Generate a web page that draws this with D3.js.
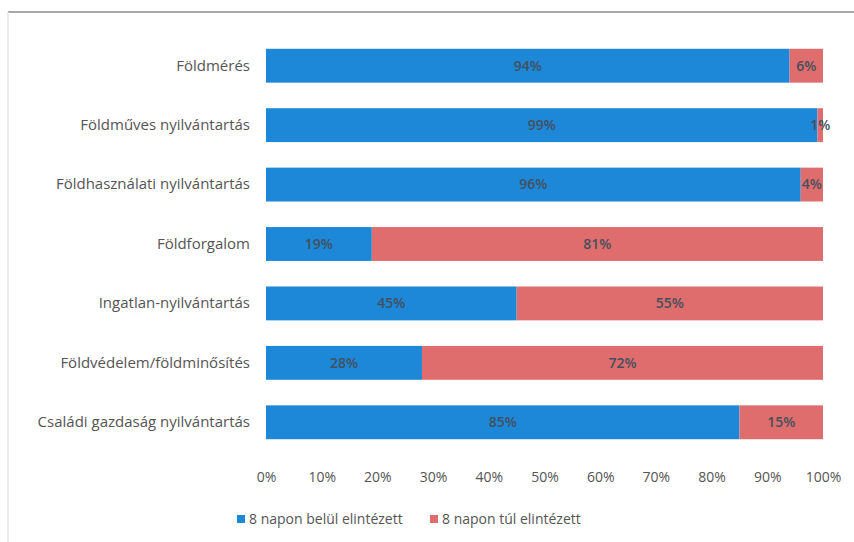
<!DOCTYPE html>
<html>
<head>
<meta charset="utf-8">
<script src="https://cdn.jsdelivr.net/npm/d3@7"></script>
<style>
  body { margin: 0; background: #fff; }
  svg text { font-family: 'Open Sans', 'Liberation Sans', sans-serif; }
</style>
</head>
<body>
<div id="chart"></div>
<script>
'use strict'

// Data
var categories = [
  'Földmérés',
  'Földműves nyilvántartás',
  'Földhasználati nyilvántartás',
  'Földforgalom',
  'Ingatlan-nyilvántartás',
  'Földvédelem/földminősítés',
  'Családi gazdaság nyilvántartás'
]
var within8 = [94, 99, 96, 19, 45, 28, 85]
var over8   = [6, 1, 4, 81, 55, 72, 15]
var seriesNames = ['8 napon belül elintézett', '8 napon túl elintézett']
var xTicks = [0, 10, 20, 30, 40, 50, 60, 70, 80, 90, 100]

var colors = ['#1d87d8', '#e06d6d']

var W = 854, H = 542
var svg = d3.select('#chart').append('svg')
  .attr('width', W)
  .attr('height', H)

// scan border
svg.append('line')
  .attr('x1', 8).attr('x2', W).attr('y1', 12).attr('y2', 12)
  .attr('stroke', '#8a8a8a').attr('stroke-width', 1.5)
svg.append('line')
  .attr('x1', 8).attr('x2', 8).attr('y1', 12).attr('y2', H)
  .attr('stroke', '#e4e4e4').attr('stroke-width', 1.5)

var scale_x = d3.scaleLinear()
  .domain([0, 100])
  .range([266, 823])

var scale_y = d3.scaleBand()
  .domain(categories)
  .range([36, 452])
  .paddingInner(0.43)
  .paddingOuter(0.215)

var rows = categories.map(function(c, i) {
  return { cat: c, segs: [
    { s: 0, x0: 0, x1: within8[i], v: within8[i] },
    { s: 1, x0: within8[i], x1: within8[i] + over8[i], v: over8[i] }
  ]}
})

var g = svg.selectAll('g.row')
  .data(rows)
  .enter().append('g')
  .attr('class', 'row')
  .attr('transform', function(d) { return 'translate(0,' + scale_y(d.cat) + ')' })

g.selectAll('rect')
  .data(function(d) { return d.segs })
  .enter().append('rect')
  .attr('x', function(d) { return scale_x(d.x0) })
  .attr('width', function(d) { return scale_x(d.x1) - scale_x(d.x0) })
  .attr('height', scale_y.bandwidth())
  .attr('fill', function(d) { return colors[d.s] })

g.selectAll('text.val')
  .data(function(d) { return d.segs })
  .enter().append('text')
  .attr('class', 'val')
  .attr('x', function(d) { return scale_x((d.x0 + d.x1) / 2) })
  .attr('y', scale_y.bandwidth() / 2)
  .attr('dy', '0.35em')
  .attr('text-anchor', 'middle')
  .attr('font-size', 14)
  .attr('font-weight', 600)
  .attr('fill', '#44505c')
  .text(function(d) { return d.v + '%' })

// category labels
svg.append('g')
  .attr('transform', 'translate(266,0)')
  .call(d3.axisLeft(scale_y).tickSize(0).tickPadding(16))
  .call(function(a) { a.select('.domain').remove() })
  .selectAll('text')
  .attr('font-size', 15)
  .attr('fill', '#555')

// x axis labels
svg.append('g')
  .attr('transform', 'translate(0,' + 468 + ')')
  .call(d3.axisBottom(scale_x).tickValues(xTicks).tickSize(0).tickPadding(4)
    .tickFormat(function(d) { return d + '%' }))
  .call(function(a) { a.select('.domain').remove() })
  .selectAll('text')
  .attr('font-size', 14)
  .attr('fill', '#555')

// legend
var legX = [237, 430]
var leg = svg.selectAll('g.leg')
  .data(seriesNames)
  .enter().append('g')
  .attr('class', 'leg')
  .attr('transform', function(d, i) { return 'translate(' + legX[i] + ',519)' })
leg.append('rect')
  .attr('x', 0).attr('y', -4).attr('width', 8).attr('height', 8)
  .attr('fill', function(d, i) { return colors[i] })
leg.append('text')
  .attr('x', 12).attr('dy', '0.35em')
  .attr('font-size', 14)
  .attr('fill', '#555')
  .text(function(d) { return d })
</script>
</body>
</html>
